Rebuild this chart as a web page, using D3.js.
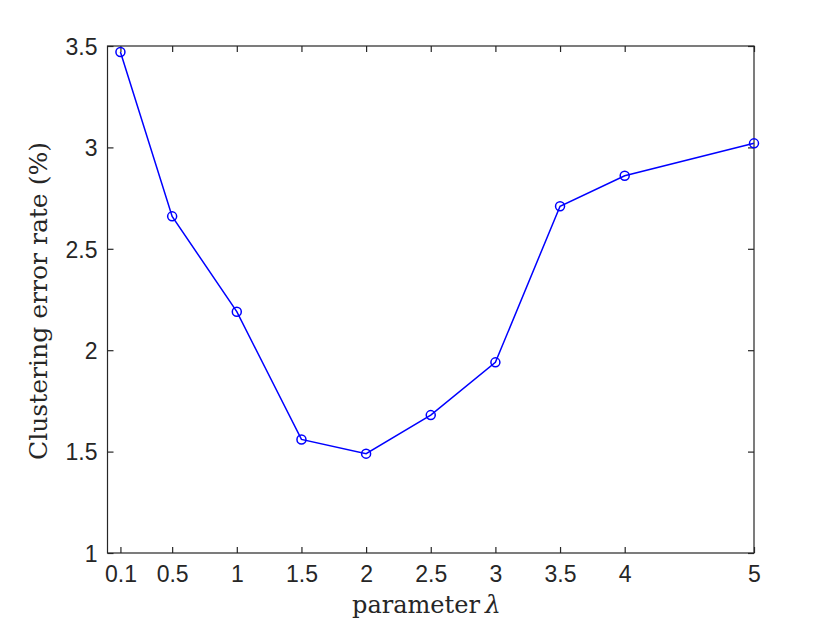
<!DOCTYPE html>
<meta charset="UTF-8">
<html>
<head>
<style>
html, body {
  margin:0;
  padding:0;
  background:#fff;
}
.axis text {
  font-family: "Liberation Sans", Arial, sans-serif;
  font-size:23px;
  fill:#262626;
}
.axis line {
  stroke:#262626;
  stroke-width:1.2;
}
.label {
  font-family: "DejaVu Serif", "Liberation Serif", serif;
  font-size:25px;
  fill:#262626;
}
</style>
</head>
<body>
<svg width="830" height="623"></svg>
<script src="https://d3js.org/d3.v7.min.js"></script>
<script type="text/javascript">
// lambda values and the error rates
var lambdas = [0.1, 0.5, 1, 1.5, 2, 2.5, 3, 3.5, 4, 5];
var errorRates = [3.47, 2.66, 2.19, 1.56, 1.49, 1.68, 1.94, 2.71, 2.86, 3.02];
var xTicks = [0.1, 0.5, 1, 1.5, 2, 2.5, 3, 3.5, 4, 5];
var yTicks = [1, 1.5, 2, 2.5, 3, 3.5];

function render() {
  var svg = d3.select("svg");
  var mLeft = 107.5, mRight = 754, mTop = 46, mBottom = 553;
  var tickLen = 6;

  var x = d3.scaleLinear().domain([0, 5]).range([mLeft, mRight]);
  var y = d3.scaleLinear().domain([1, 3.5]).range([mBottom, mTop]);

  // bottom axis, ticks pointing in
  var xb = svg.append("g")
      .attr("class", "axis")
      .attr("transform", "translate(0," + mBottom + ")")
      .call(d3.axisBottom(x).tickValues(xTicks).tickSizeInner(-tickLen).tickSizeOuter(0)
        .tickPadding(12).tickFormat(d3.format("")));
  xb.select(".domain").remove();
  xb.selectAll("text").attr("dy", "0.72em");

  var xt = svg.append("g")
      .attr("transform", "translate(0," + mTop + ")")
      .attr("class", "axis")
      .call(d3.axisTop(x).tickValues(xTicks).tickSizeInner(-tickLen).tickSizeOuter(0).tickFormat(""));
  xt.select(".domain").remove();

  var yl = svg.append("g")
      .attr("class", "axis")
      .attr("transform", "translate(" + mLeft + ",0)")
      .call(d3.axisLeft(y).tickValues(yTicks).tickSizeInner(-tickLen).tickSizeOuter(0)
        .tickPadding(10).tickFormat(d3.format("")));
  yl.select(".domain").remove();
  yl.selectAll("text").attr("dy", "0.36em");

  var yr = svg.append("g")
      .attr("class", "axis")
      .attr("transform", "translate(" + mRight + ",0)")
      .call(d3.axisRight(y).tickValues(yTicks).tickSizeInner(-tickLen).tickSizeOuter(0).tickFormat(""));
  yr.select(".domain").remove();

  // box
  svg.append("rect")
      .attr("x", mLeft).attr("y", mTop)
      .attr("width", mRight - mLeft).attr("height", mBottom - mTop)
      .attr("fill", "none")
      .attr("stroke", "#262626")
      .attr("stroke-width", 1.2);

  var pts = lambdas.map(function(l, i) { return [l, errorRates[i]]; });

  svg.append("path")
      .datum(pts)
      .attr("fill", "none")
      .attr("stroke", "#0000ff")
      .attr("stroke-width", 1.5)
      .attr("d", d3.line().x(function(d) { return x(d[0]); }).y(function(d) { return y(d[1]); }));

  svg.append("g")
    .selectAll("circle")
    .data(pts)
    .enter().append("circle")
      .attr("cx", function(d) { return x(d[0]); })
      .attr("cy", function(d) { return y(d[1]); })
      .attr("r", 4.5)
      .attr("fill", "none")
      .attr("stroke", "#0000ff")
      .attr("stroke-width", 1.5);

  // axis labels
  svg.append("text")
      .attr("class", "label")
      .attr("x", 352)
      .attr("y", 613)
      .attr("textLength", 128)
      .attr("lengthAdjust", "spacingAndGlyphs")
      .text("parameter");
  svg.append("text")
      .attr("class", "label")
      .attr("x", 485)
      .attr("y", 613)
      .attr("font-style", "italic")
      .text("λ");

  svg.append("text")
      .attr("class", "label")
      .attr("transform", "translate(47,460) rotate(-90)")
      .attr("textLength", 318)
      .attr("lengthAdjust", "spacingAndGlyphs")
      .text("Clustering error rate (%)");
}

render();
</script>
</body>
</html>
